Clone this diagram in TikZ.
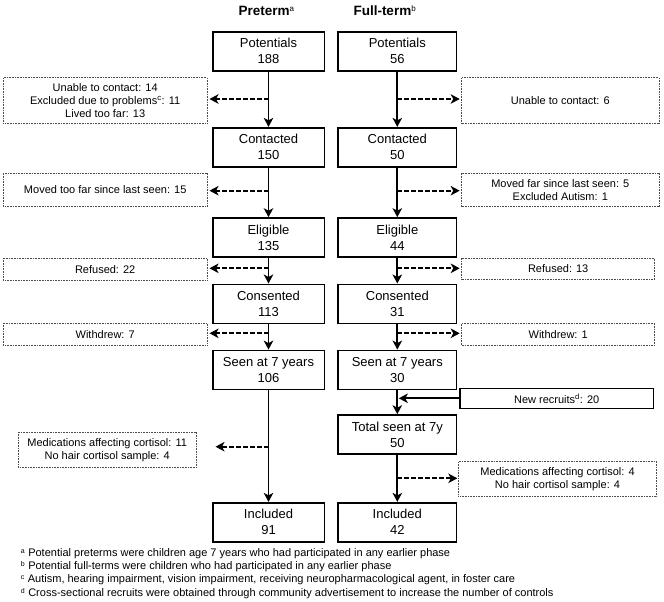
\documentclass[tikz,border=0pt]{standalone}
\usepackage{fontspec}
\setmainfont{Liberation Sans}
\usetikzlibrary{arrows.meta}
\begin{document}
\begin{tikzpicture}[x=1pt,y=-1pt,
  mbox/.style={draw, line width=1.6pt, align=center, inner sep=0pt, minimum height=39pt, font=\fontsize{13}{16}\selectfont},
  lcol/.style={mbox, minimum width=111.6pt},
  rcol/.style={mbox, minimum width=118.2pt},
  dbox/.style={draw=black!70, line width=0.9pt, dash pattern=on 1pt off 0.6pt, align=center, inner sep=0pt, font=\fontsize{11}{13.3}\selectfont},
  arr/.style={line width=1.7pt, -{Stealth[length=9pt,width=9.5pt,inset=2.5pt]}},
  darr/.style={line width=2pt, dash pattern=on 5pt off 2pt, -{Stealth[length=9pt,width=9.5pt,inset=2.5pt]}},
  ttl/.style={anchor=base west, inner sep=0pt, font=\fontsize{13.5}{16}\bfseries\selectfont},
  fnote/.style={anchor=base west, inner sep=0pt, font=\fontsize{11}{13.3}\selectfont}
]
\useasboundingbox (0,0) rectangle (664,602);

% titles
\node[ttl] (tl) at (238.3,16) {Preterm{\fontsize{8}{8}\mdseries\selectfont\raisebox{4.5pt}{a}}};
\node[ttl] (tr) at (353.3,16) {Full-term{\fontsize{8}{8}\mdseries\selectfont\raisebox{4.5pt}{b}}};

% left column
\node[lcol] (lp) at (268.5,51.3) {Potentials\\188};
\node[lcol] (lc) at (268.5,147.2) {Contacted\\150};
\node[lcol] (le) at (268.5,237.5) {Eligible\\135};
\node[lcol] (lk) at (268.5,303.8) {Consented\\113};
\node[lcol] (ls) at (268.5,369.9) {Seen at 7 years\\106};
\node[lcol] (li) at (268.5,522.2) {Included\\91};

% right column
\node[rcol] (rp) at (397.3,51.3) {Potentials\\56};
\node[rcol] (rc) at (397.3,147.2) {Contacted\\50};
\node[rcol] (re) at (397.3,237.5) {Eligible\\44};
\node[rcol] (rk) at (397.3,303.8) {Consented\\31};
\node[rcol] (rs) at (397.3,369.9) {Seen at 7 years\\30};
\node[rcol] (rt) at (397.3,434.5) {Total seen at 7y\\50};
\node[rcol] (ri) at (397.3,522.2) {Included\\42};

% new recruits
\node[mbox, font=\fontsize{11}{13.3}\selectfont, minimum width=193.3pt, minimum height=20pt] (nr) at (556.7,398.3) {New recruits\textsuperscript{d}: 20};

% left exclusion boxes
\node[dbox, minimum width=203.7pt, minimum height=45.3pt] (lx1) at (105.2,100.6) {Unable to contact: 14\\Excluded due to problems\textsuperscript{c}: 11\\Lived too far: 13};
\node[dbox, minimum width=203.7pt, minimum height=33.4pt] (lx2) at (105.2,190) {Moved too far since last seen: 15};
\node[dbox, minimum width=203.7pt, minimum height=21.7pt] (lx3) at (105.2,269.2) {Refused: 22};
\node[dbox, minimum width=203.7pt, minimum height=21.7pt] (lx4) at (105.2,334.2) {Withdrew: 7};
\node[dbox, minimum width=177.7pt, minimum height=35.4pt] (lx5) at (107.2,450) {Medications affecting cortisol: 11\\No hair cortisol sample: 4};

% right exclusion boxes
\node[dbox, minimum width=197.3pt, minimum height=45.3pt] (rx1) at (560.3,100.6) {Unable to contact: 6};
\node[dbox, minimum width=197.3pt, minimum height=33.4pt] (rx2) at (560.3,190) {Moved far since last seen: 5\\Excluded Autism: 1};
\node[dbox, minimum width=193pt, minimum height=21pt] (rx3) at (558.2,268.8) {Refused: 13};
\node[dbox, minimum width=193pt, minimum height=21.7pt] (rx4) at (558.2,334.2) {Withdrew: 1};
\node[dbox, minimum width=198.4pt, minimum height=35pt] (rx5) at (557.5,479.2) {Medications affecting cortisol: 4\\No hair cortisol sample: 4};

% main flow
\draw[arr] (lp) -- (lc);
\draw[arr] (lc) -- (le);
\draw[arr] (le) -- (lk);
\draw[arr] (lk) -- (ls);
\draw[arr] (ls) -- (li);
\draw[arr] (rp) -- (rc);
\draw[arr] (rc) -- (re);
\draw[arr] (re) -- (rk);
\draw[arr] (rk) -- (rs);
\draw[arr] (rs) -- (rt);
\draw[arr] (rt) -- (ri);
\draw[arr, shorten >=1.5pt] (nr.west) -- (nr.west -| rs);

% branch points
\coordinate (lb1) at (268.5,99);
\coordinate (lb2) at (268.5,190.7);
\coordinate (lb3) at (268.5,268.3);
\coordinate (lb4) at (268.5,333.3);
\coordinate (lb5) at (268.5,446.7);
\coordinate (rb1) at (397.3,99);
\coordinate (rb2) at (397.3,190.7);
\coordinate (rb3) at (397.3,268.3);
\coordinate (rb4) at (397.3,333.3);
\coordinate (rb5) at (397.3,478.3);

\draw[darr, shorten >=2pt] (lb1) -- (lb1 -| lx1.east);
\draw[darr, shorten >=2pt] (lb2) -- (lb2 -| lx2.east);
\draw[darr, shorten >=2pt] (lb3) -- (lb3 -| lx3.east);
\draw[darr, shorten >=2pt] (lb4) -- (lb4 -| lx4.east);
\draw[darr, shorten >=19pt] (lb5) -- (lb5 -| lx5.east);
\draw[darr, shorten >=1.5pt] (rb1) -- (rb1 -| rx1.west);
\draw[darr, shorten >=1.5pt] (rb2) -- (rb2 -| rx2.west);
\draw[darr, shorten >=1.5pt] (rb3) -- (rb3 -| rx3.west);
\draw[darr, shorten >=1.5pt] (rb4) -- (rb4 -| rx4.west);
\draw[darr, shorten >=0.5pt] (rb5) -- (rb5 -| rx5.west);

% footnotes
\node[fnote] (fa) at (20.7,556) {\raisebox{3pt}{\fontsize{7}{7}\selectfont a}\hspace{3.5pt}Potential preterms were children age 7 years who had participated in any earlier phase};
\node[fnote] (fb) at (20.7,569.4) {\raisebox{3pt}{\fontsize{7}{7}\selectfont b}\hspace{3.5pt}Potential full-terms were children who had participated in any earlier phase};
\node[fnote] (fc) at (20.7,582.8) {\raisebox{3pt}{\fontsize{7}{7}\selectfont c}\hspace{3.5pt}Autism, hearing impairment, vision impairment, receiving neuropharmacological agent, in foster care};
\node[fnote] (fd) at (20.7,596.2) {\raisebox{3pt}{\fontsize{7}{7}\selectfont d}\hspace{3.5pt}Cross-sectional recruits were obtained through community advertisement to increase the number of controls};
\end{tikzpicture}
\end{document}
